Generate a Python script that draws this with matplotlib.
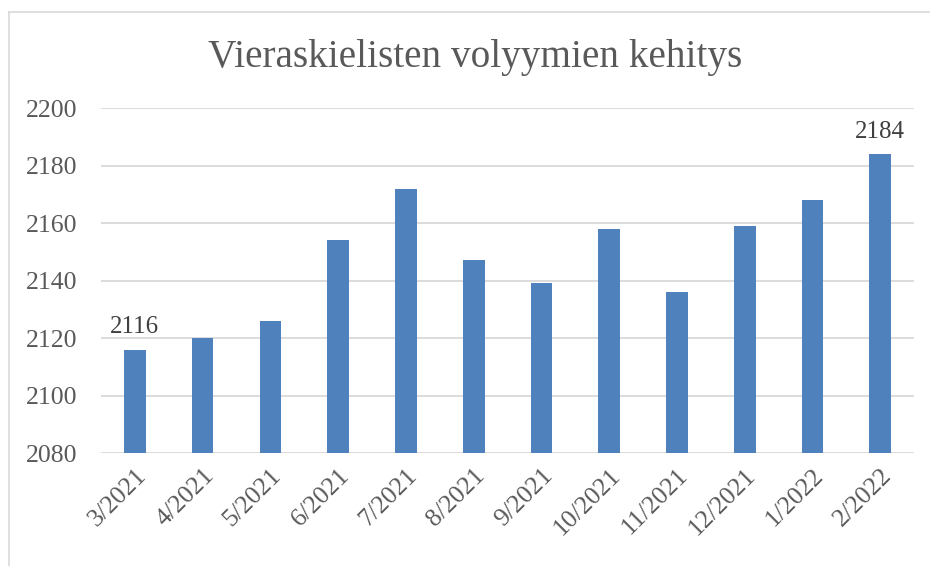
import matplotlib
matplotlib.use("Agg")
import matplotlib.pyplot as plt
from matplotlib.lines import Line2D
import numpy as np

# data
months = ["3/2021", "4/2021", "5/2021", "6/2021", "7/2021", "8/2021",
          "9/2021", "10/2021", "11/2021", "12/2021", "1/2022", "2/2022"]
volumes = [2116, 2120, 2126, 2154, 2172, 2147, 2139, 2158, 2136, 2159, 2168, 2184]
y_ticks = [2080, 2100, 2120, 2140, 2160, 2180, 2200]

plt.rcParams['font.family'] = ['Liberation Serif', 'DejaVu Serif']

fig = plt.figure(figsize=(9.3, 5.66), dpi=100, facecolor='w')
ax = fig.add_axes([0.1086, 0.1996, 0.8744, 0.6094])

x = np.arange(len(months))
ax.bar(x, volumes, width=0.32, color="#4F81BD", zorder=3)

ax.set_ylim(y_ticks[0], y_ticks[-1])
ax.set_xlim(-0.5, len(months) - 0.5)
ax.set_yticks(y_ticks)
ax.set_xticks(x)
ax.set_xticklabels(months, rotation=45, ha='right', rotation_mode='anchor')
ax.tick_params(axis='both', length=0, labelsize=18.5, colors="#595959")
ax.tick_params(axis='y', pad=17)
ax.tick_params(axis='x', pad=8)
ax.grid(axis='y', color="#D9D9D9", linewidth=1.3, zorder=0)
for s in ax.spines.values():
    s.set_visible(False)

# labels on first and last bar
for i in (0, len(volumes) - 1):
    ax.annotate(str(volumes[i]), (x[i], volumes[i]), xytext=(0, 8),
                textcoords='offset points', ha='center', va='bottom',
                fontsize=18, color="#404040")

fig.text(0.511, 0.898, "Vieraskielisten volyymien kehitys", ha='center',
         va='center', fontsize=28.3, color="#595959")

# chart frame (left and top edge visible)
fig.add_artist(Line2D([8.5 / 930, 8.5 / 930], [0, 1 - 11.5 / 566],
                      color="#D9D9D9", linewidth=1.2))
fig.add_artist(Line2D([8.5 / 930, 1], [1 - 11.5 / 566, 1 - 11.5 / 566],
                      color="#D9D9D9", linewidth=1.2))

fig.savefig("out.png", dpi=100)
